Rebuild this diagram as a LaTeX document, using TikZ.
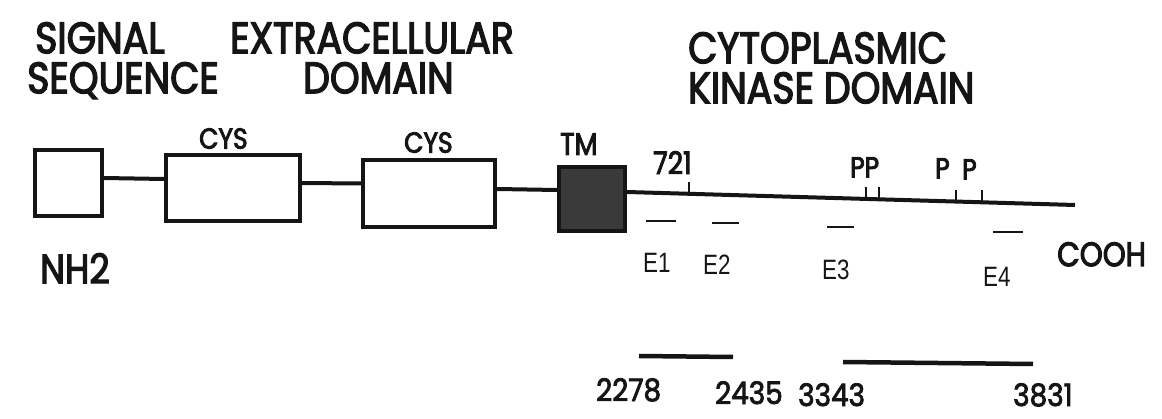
\documentclass[tikz,border=0pt]{standalone}
\usepackage{fontspec}
\setmainfont{Poppins}
\newfontfamily\geofont[FakeStretch=0.86, FakeBold=3]{Poppins}
\newfontfamily\numfont[FakeStretch=0.9, FakeBold=2.5]{Poppins}
\newfontfamily\thinfont[FakeStretch=0.8]{Liberation Sans}
\usetikzlibrary{positioning, calc}
\definecolor{clrInk}{HTML}{151515}
\definecolor{clrTM}{HTML}{3A3A3A}

\begin{document}
\begin{tikzpicture}[
  x=1pt, y=-1pt,
  heading/.style = {
    font=\geofont\fontsize{44}{40}\selectfont,
    text=clrInk,
    inner sep=0pt,
    anchor=north west
  },
  tag/.style = {
    font=\geofont\fontsize{29}{29}\selectfont,
    text=clrInk,
    inner sep=0pt,
    anchor=north west
  },
  num/.style = {
    font=\numfont\fontsize{31}{31}\selectfont,
    text=clrInk,
    inner sep=0pt,
    anchor=north west
  },
  exon/.style = {
    font=\thinfont\fontsize{28}{28}\selectfont,
    text=clrInk,
    inner sep=0pt,
    anchor=north west
  },
  domainbox/.style = {
    rectangle,
    draw=clrInk,
    line width=4pt,
    fill=white,
    inner sep=0pt
  },
  backbone/.style = {line width=4pt, draw=clrInk},
  site/.style = {line width=2pt, draw=clrInk},
  probe/.style = {line width=2.5pt, draw=clrInk},
  span/.style = {line width=4.5pt, draw=clrInk}
]
\useasboundingbox (0,0) rectangle (1162,419);

% ── headings ─────────────────────────────────────────────────────────────────
\node[heading] (signal)  at (35,22)  {SIGNAL};
\node[heading] (signal2) at (27,62)  {SEQUENCE};
\node[heading] (extra)   at (230,22) {EXTRACELLULAR};
\node[heading] (extra2)  at (303,62) {DOMAIN};
\node[heading] (cyto)    at (688,32) {CYTOPLASMIC};
\node[heading] (cyto2)   at (688,72) {KINASE DOMAIN};

% ── domains ──────────────────────────────────────────────────────────────────
\node[domainbox, minimum width=67pt, minimum height=66pt]  (sig)  at (68.5,183) {};
\node[domainbox, minimum width=134pt, minimum height=66pt] (cys1) at (233,188)  {};
\node[domainbox, minimum width=132pt, minimum height=67pt] (cys2) at (429,193.5) {};
\node[domainbox, fill=clrTM, minimum width=66pt, minimum height=64pt] (tm) at (592,199) {};
\coordinate (cend) at (1075,205);

\node[tag] (cyslbl1) at (199,128) {CYS};
\node[tag] (cyslbl2) at (404,132) {CYS};
\node[tag, font=\geofont\fontsize{31}{31}\selectfont] (tmlbl) at (560,133) {TM};
\node[tag, font=\geofont\fontsize{41}{41}\selectfont] (nh2) at (40,253) {NH2};
\node[tag, font=\geofont\fontsize{34}{34}\selectfont] (cooh) at (1057,242) {COOH};

% ── backbone ─────────────────────────────────────────────────────────────────
\draw[backbone] ([yshift=5pt]sig.east)  -- ([yshift=9pt]cys1.west);
\draw[backbone] ([yshift=5pt]cys1.east) -- ([yshift=10pt]cys2.west);
\draw[backbone] ([yshift=4.5pt]cys2.east) -- ([yshift=9pt]tm.west);
\draw[backbone] ([yshift=7pt]tm.east) -- (cend)
  coordinate[pos=0.138] (k721)
  coordinate[pos=0.533] (kpa)
  coordinate[pos=0.562] (kpb)
  coordinate[pos=0.734] (kpc)
  coordinate[pos=0.792] (kpd);

% ── sites ────────────────────────────────────────────────────────────────────
\foreach \k in {k721, kpa, kpb, kpc, kpd}
  \draw[site] (\k) -- ++(0,-12);

\node[tag, font=\geofont\fontsize{31}{31}\selectfont] (l721) at (653,151) {721};
\node[tag] (lpp) at (850,157) {PP};
\node[tag] (lpc) at (935,158) {P};
\node[tag] (lpd) at (962,159) {P};

% ── exon probes ──────────────────────────────────────────────────────────────
\foreach \xa/\ya/\len in {646/221/30, 712/223/27, 827/227/27, 993/232/30}
  \draw[probe] (\xa,\ya) -- ++(\len,0);

\node[exon] (e1) at (643,253) {E1};
\node[exon] (e2) at (703,255) {E2};
\node[exon] (e3) at (822,260) {E3};
\node[exon] (e4) at (983,267) {E4};

% ── cDNA spans ───────────────────────────────────────────────────────────────
\draw[span] (639,356) -- (733,357);
\draw[span] (843,362) -- (1033,364);

\node[num] (n2278) at (596,378) {2278};
\node[num] (n2435) at (715,381) {2435};
\node[num] (n3343) at (798,383) {3343};
\node[num] (n3831) at (1013,383) {3831};

\end{tikzpicture}
\end{document}
